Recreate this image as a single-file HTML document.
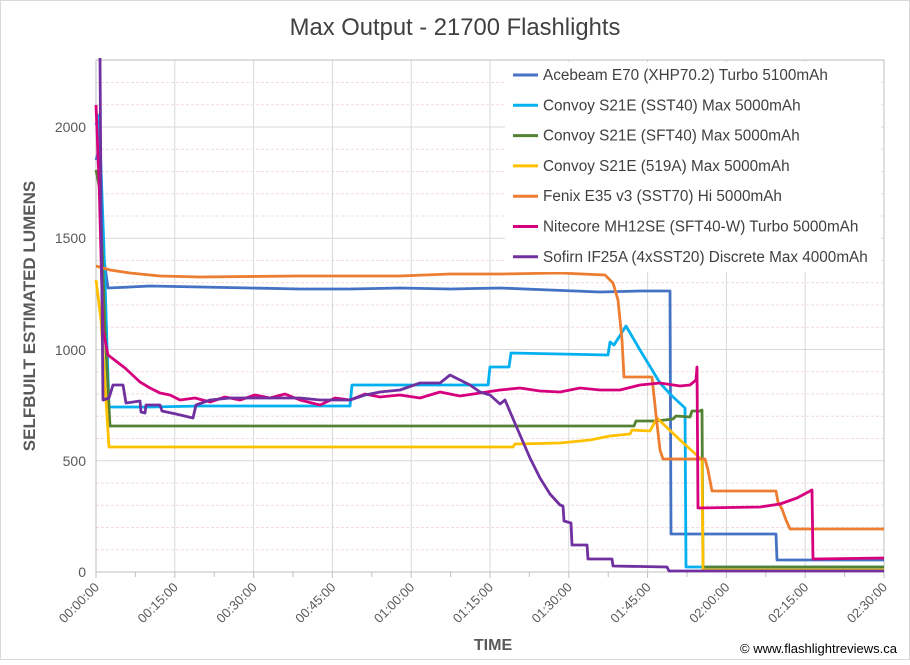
<!DOCTYPE html>
<html><head><meta charset="utf-8"><style>
body{margin:0;background:#fff}
svg text{font-family:"Liberation Sans",sans-serif}
</style></head><body>
<svg width="910" height="660" viewBox="0 0 910 660" xmlns="http://www.w3.org/2000/svg">
<rect x="0.5" y="0.5" width="909" height="659" fill="#fff" stroke="#d9d9d9"/>
<text x="455" y="35" text-anchor="middle" font-size="23.8" fill="#404040">Max Output - 21700 Flashlights</text>
<g id="grid"></g>
<rect x="96" y="60" width="788" height="512" fill="none" stroke="#bfbfbf"/>
<g id="series" fill="none" stroke-width="2.8" stroke-linejoin="round"></g>
<g font-size="14" fill="#595959" text-anchor="end">
<text x="86" y="577">0</text><text x="86" y="466">500</text><text x="86" y="355">1000</text><text x="86" y="243">1500</text><text x="86" y="132">2000</text>
</g>
<g id="xl" font-size="13" fill="#595959" text-anchor="end"></g>
<text transform="translate(35,316) rotate(-90)" text-anchor="middle" font-size="17" font-weight="bold" fill="#595959">SELFBUILT ESTIMATED LUMENS</text>
<text x="493" y="650" text-anchor="middle" font-size="16" font-weight="bold" fill="#595959">TIME</text>
<text x="897" y="653" text-anchor="end" font-size="13" fill="#000">© www.flashlightreviews.ca</text>
<rect x="505" y="62" width="376" height="210" fill="#fff"/>
<g id="leg" font-size="15.3" fill="#404040"></g>
</svg>
<script>
var ns="http://www.w3.org/2000/svg";
function el(t,a,p,txt){var e=document.createElementNS(ns,t);for(var k in a)e.setAttribute(k,a[k]);if(txt)e.textContent=txt;document.getElementById(p).appendChild(e);}
for(var L=100;L<=2300;L+=100){var y=572-L*0.2225;if(L%500==0)el('line',{x1:96,x2:884,y1:y,y2:y,stroke:'#d9d9d9'},'grid');else el('line',{x1:96,x2:884,y1:y,y2:y,stroke:'#f2dcdc','stroke-dasharray':'3,2'},'grid');}
var labs=["00:00:00","00:15:00","00:30:00","00:45:00","01:00:00","01:15:00","01:30:00","01:45:00","02:00:00","02:15:00","02:30:00"];
for(var i=0;i<=20;i++){var x=96+i*39.4;if(i%2==0){el('line',{x1:x,x2:x,y1:60,y2:572,stroke:'#d9d9d9'},'grid');el('line',{x1:x,x2:x,y1:572,y2:578,stroke:'#bfbfbf'},'grid');var lx=x+4,ly=588;el('text',{x:lx,y:ly,transform:'rotate(-45 '+lx+' '+ly+')'},'xl',labs[i/2]);}else el('line',{x1:x,x2:x,y1:572,y2:577,stroke:'#bfbfbf'},'grid');}
var S=[
["#4472C4","Acebeam E70 (XHP70.2) Turbo 5100mAh","96,160 99,150 104,260 108,288 130,287 150,286 200,287 250,288 300,289 350,289 400,288 450,289 500,288 550,290 600,292 640,291 670,291 671,534 776,534 777,560 884,560"],
["#00B0F0","Convoy S21E (SST40) Max 5000mAh","96,125 99,115 104,250 109,407 150,407 200,406 250,406 300,406 350,406 352,385 400,385 450,385 488,385 490,367 509,367 511,353 560,354 608,355 610,342 614,345 626,326 640,350 660,383 671,395 685,408 686,567 884,567"],
["#548235","Convoy S21E (SFT40) Max 5000mAh","96,170 100,190 105,330 110,426 200,426 300,426 400,426 500,426 634,426 636,421 656,421 673,419 676,416 690,417 692,411 700,411 702,410 703,567 884,567"],
["#FFC000","Convoy S21E (519A) Max 5000mAh","96,280 101,320 106,400 109,447 200,447 300,447 400,447 513,447 515,444 560,443 590,440 610,436 630,434 632,430 650,431 657,418 680,440 702,460 703,570 884,570"],
["#ED7D31","Fenix E35 v3 (SST70) Hi 5000mAh","96,266 110,270 130,273 160,276 200,277 300,276 400,276 450,274 500,274 560,273 605,275 613,283 618,300 622,340 624,377 652,377 656,415 660,450 663,459 705,459 708,470 712,491 776,491 778,502 782,509 786,520 790,529 884,529"],
["#D6007F","Nitecore MH12SE (SFT40-W) Turbo 5000mAh","96,105 99,180 103,330 108,355 125,368 140,382 150,388 160,393 170,395 180,400 195,398 210,402 225,397 240,400 255,395 270,398 285,394 300,400 320,405 335,398 350,400 365,394 380,397 400,395 420,398 440,392 460,396 480,393 500,390 520,388 540,391 560,392 580,388 600,390 620,390 640,385 660,383 680,386 690,385 696,380 697,367 698,508 760,507 780,504 797,498 812,490 813,559 884,558"],
["#7030A0","Sofirn IF25A (4xSST20) Discrete Max 4000mAh","100,58 101,200 103,400 109,398 113,385 123,385 126,403 140,401 141,412 145,413 146,405 160,405 162,411 176,414 193,418 196,405 210,400 230,398 250,398 280,398 300,398 320,400 350,400 365,395 380,392 400,390 420,383 440,383 450,375 470,385 480,392 490,395 500,404 505,400 520,435 530,458 540,478 550,494 560,505 563,506 564,521 571,523 572,545 587,545 588,559 612,559 613,566 667,567 669,571 884,571"]
];
S.forEach(function(s,i){el('polyline',{points:s[2],stroke:s[0]},'series');var y=75+i*30.3;el('line',{x1:513,x2:538,y1:y,y2:y,stroke:s[0],'stroke-width':3},'leg');el('text',{x:543,y:y+5},'leg',s[1]);});
</script>
</body></html>
